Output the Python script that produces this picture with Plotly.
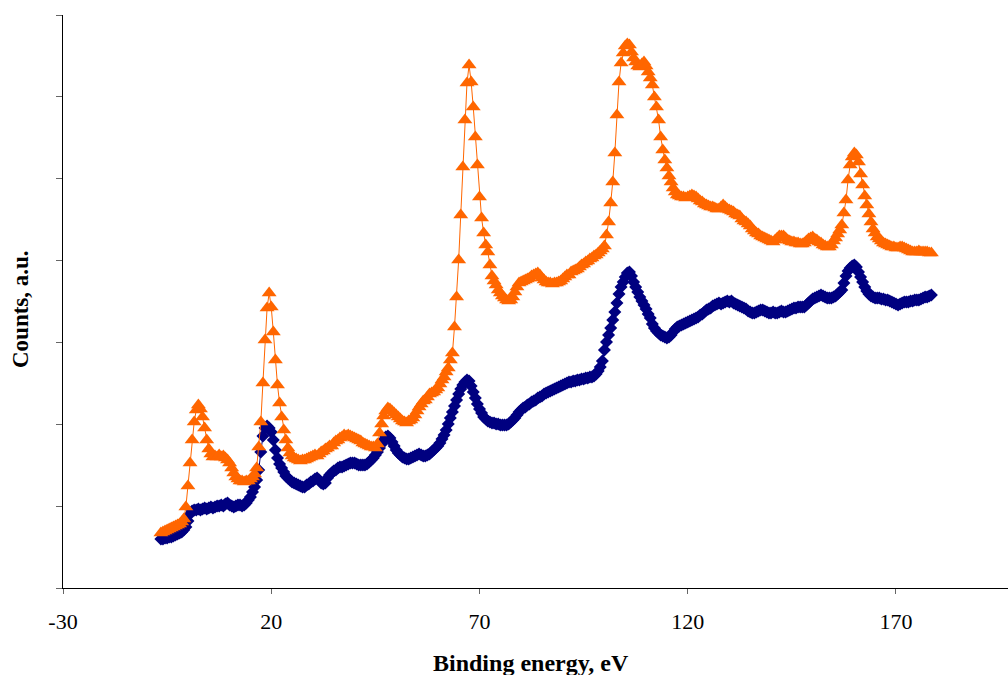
import numpy as np
import plotly.graph_objects as go

# Binding energy grid (eV), 0.5 eV step
energy = np.arange(-6.5, 178.75, 0.5)

# Orange series (triangles), counts a.u.
counts_orange = [
    55, 56, 57, 58, 59, 60, 61, 62, 63, 64, 66, 69, 81,
    102, 125, 148, 166, 178, 183, 179, 171, 160, 148, 139, 134,
    131, 132, 131, 133, 131, 132, 130, 128, 125, 120, 115, 111,
    109, 107, 107, 106, 107, 107, 109, 111, 114, 120, 141, 166,
    205, 248, 280, 295, 281, 256, 228, 203, 185, 171, 158, 148,
    140, 135, 132, 130, 129, 128, 127, 128, 128, 129, 130, 131,
    132, 133, 132, 134, 136, 137, 139, 140, 142, 142, 145, 147,
    148, 150, 151, 153, 152, 153, 152, 151, 150, 149, 148, 147,
    145, 144, 143, 142, 141, 141, 140, 144, 155, 164, 172, 177,
    180, 179, 177, 175, 173, 171, 169, 167, 166, 165, 167, 168,
    170, 173, 177, 181, 184, 187, 188, 191, 194, 195, 196, 198,
    200, 204, 208, 211, 216, 220, 228, 235, 261, 291, 328, 373,
    421, 468, 505, 523, 506, 481, 451, 423, 391, 370, 355, 343,
    336, 323, 312, 307, 303, 298, 295, 292, 290, 288, 287, 288,
    291, 296, 301, 305, 306, 307, 308, 309, 310, 312, 313, 314,
    315, 313, 310, 308, 306, 305, 305, 304, 305, 305, 306, 307,
    309, 311, 313, 313, 316, 317, 318, 319, 321, 323, 324, 326,
    327, 329, 330, 332, 333, 335, 337, 339, 342, 353, 366, 385,
    406, 435, 473, 506, 525, 535, 542, 544, 543, 536, 530, 526,
    522, 521, 524, 526, 522, 516, 510, 503, 491, 481, 468, 451,
    438, 428, 420, 412, 406, 400, 396, 393, 392, 391, 391, 390,
    391, 392, 393, 392, 391, 389, 387, 386, 384, 383, 382, 381,
    381, 380, 379, 379, 381, 383, 381, 379, 378, 377, 376, 374,
    373, 372, 369, 367, 366, 364, 362, 359, 357, 355, 354, 352,
    351, 350, 349, 348, 347, 346, 348, 350, 352, 352, 352, 350,
    348, 347, 346, 346, 345, 345, 344, 344, 345, 347, 349, 350,
    351, 349, 348, 346, 345, 343, 342, 341, 341, 343, 347, 350,
    354, 358, 363, 375, 388, 408, 423, 431, 435, 433, 426, 414,
    403, 392, 383, 374, 366, 359, 355, 351, 349, 347, 345, 344,
    343, 342, 341, 341, 340, 340, 341, 341, 340, 339, 338, 337,
    336, 336, 336, 337, 336, 336, 336, 336, 335, 335,
]

# Navy series (diamonds), counts a.u.
counts_blue = [
    49, 49, 50, 50, 51, 51, 52, 53, 54, 55, 56, 58, 61,
    67, 74, 77, 78, 78, 79, 78, 79, 80, 79, 80, 81,
    80, 81, 82, 82, 83, 82, 84, 85, 83, 82, 81, 82,
    83, 83, 82, 83, 85, 88, 91, 96, 101, 108, 118, 136,
    152, 160, 162, 160, 156, 148, 138, 130, 124, 120, 116, 112,
    110, 108, 106, 105, 104, 103, 102, 101, 101, 103, 104, 106,
    107, 109, 110, 108, 105, 104, 105, 110, 113, 115, 117, 118,
    120, 121, 121, 122, 123, 124, 125, 125, 125, 124, 123, 123,
    123, 123, 124, 126, 128, 130, 133, 136, 140, 144, 148, 151,
    152, 150, 146, 142, 138, 135, 133, 131, 130, 129, 129, 130,
    131, 132, 133, 134, 133, 132, 132, 133, 134, 136, 138, 140,
    142, 145, 149, 153, 158, 164, 170, 176, 182, 188, 194, 199,
    203, 206, 208, 207, 202, 196, 190, 184, 179, 175, 171, 169,
    167, 166, 165, 165, 164, 164, 163, 163, 163, 163, 164, 166,
    168, 170, 173, 176, 178, 180, 181, 183, 184, 186, 187, 188,
    190, 191, 192, 194, 195, 196, 197, 198, 199, 200, 201, 202,
    203, 204, 205, 206, 206, 207, 207, 208, 208, 209, 209, 210,
    210, 211, 211, 212, 214, 217, 221, 227, 238, 246, 253, 260,
    268, 276, 285, 294, 301, 306, 311, 315, 316, 312, 306, 301,
    296, 291, 287, 283, 279, 274, 270, 264, 260, 257, 255, 253,
    252, 251, 250, 251, 253, 256, 259, 261, 262, 263, 264, 265,
    266, 267, 268, 269, 270, 271, 273, 274, 276, 278, 279, 280,
    282, 283, 284, 285, 284, 285, 286, 287, 286, 287, 285, 284,
    283, 282, 281, 280, 279, 277, 276, 275, 275, 276, 277, 278,
    278, 277, 276, 275, 275, 276, 275, 275, 276, 277, 276, 276,
    277, 278, 279, 280, 280, 281, 281, 281, 281, 283, 285, 287,
    289, 290, 291, 292, 293, 292, 291, 290, 290, 290, 291, 292,
    294, 296, 298, 305, 312, 317, 320, 322, 323, 321, 316, 311,
    306, 301, 297, 294, 292, 291, 290, 290, 290, 289, 289, 288,
    288, 287, 286, 285, 284, 283, 284, 285, 286, 286, 286, 287,
    287, 288, 288, 288, 289, 290, 291, 291, 292, 293,
]

x_ticks = [-30, 20, 70, 120, 170]
y_max = 573
y_ticks = [i * y_max / 7 for i in range(8)]

n = min(len(energy), len(counts_orange), len(counts_blue))

fig = go.Figure()
fig.add_trace(go.Scatter(
    x=energy[:n], y=counts_blue[:n], mode="lines+markers",
    line=dict(color="#000080", width=1),
    marker=dict(symbol="diamond", size=10, color="#000080"),
    showlegend=False,
))
fig.add_trace(go.Scatter(
    x=energy[:n], y=counts_orange[:n], mode="lines+markers",
    line=dict(color="#FF6600", width=1),
    marker=dict(symbol="triangle-up", size=13, color="#FF6600"),
    showlegend=False,
))

serif = "Liberation Serif, Times New Roman, serif"
fig.update_layout(
    width=1008, height=675,
    margin=dict(l=63, r=0, t=15, b=87),
    paper_bgcolor="white", plot_bgcolor="white",
    font=dict(family=serif, color="black"),
    xaxis=dict(
        range=[-30, 196.9], tickvals=x_ticks, ticktext=[str(v) for v in x_ticks],
        showgrid=False, zeroline=False,
        showline=True, linecolor="black", linewidth=1.3,
        ticks="outside", ticklen=5, tickcolor="#666", tickwidth=1,
        ticklabelstandoff=8,
        tickfont=dict(family=serif, size=22, color="black"),
    ),
    yaxis=dict(
        range=[0, y_max], tickvals=y_ticks, showticklabels=False,
        showgrid=False, zeroline=False,
        showline=True, linecolor="black", linewidth=1.3,
        ticks="outside", ticklen=6, tickcolor="#666", tickwidth=1,
    ),
    annotations=[
        dict(text="<b>Binding energy, eV</b>", xref="paper", yref="paper",
             x=(531 - 63) / 945, y=-(663 - 588) / 573, showarrow=False,
             font=dict(family=serif, size=24, color="black"),
             xanchor="center", yanchor="middle"),
        dict(text="<b>Counts, a.u.</b>", xref="paper", yref="paper",
             x=-(63 - 20) / 945, y=(588 - 309) / 573, showarrow=False,
             textangle=-90,
             font=dict(family=serif, size=23, color="black"),
             xanchor="center", yanchor="middle"),
    ],
)

fig.write_html("out.html")
